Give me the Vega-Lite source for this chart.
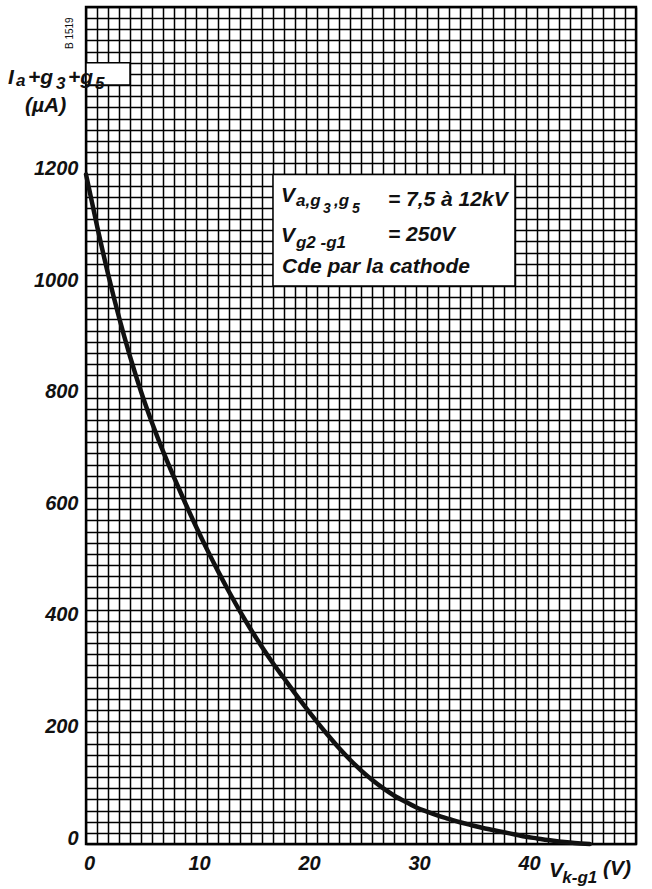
{
  "$schema": "https://vega.github.io/schema/vega-lite/v6.json",
  "autosize": "none",
  "width": 550,
  "height": 837,
  "padding": {"left": 86, "top": 7, "right": 16, "bottom": 45},
  "background": "white",
  "config": {
    "view": {"stroke": "#000", "strokeWidth": 2.4},
    "axis": {
      "labelFont": "Liberation Sans",
      "labelFontStyle": "italic",
      "labelFontWeight": "bold",
      "labelFontSize": 20,
      "labelColor": "#111",
      "domain": false,
      "ticks": false,
      "grid": true,
      "gridColor": "#000",
      "gridWidth": 1.5,
      "gridOpacity": 1,
      "labelOverlap": false,
      "labelFlush": false,
      "labelBound": false,
      "title": null
    },
    "text": {"font": "Liberation Sans", "fontStyle": "italic", "fontWeight": "bold", "color": "#111", "align": "left", "baseline": "alphabetic"}
  },
  "datasets": {
    "curve": [
      {"x": 0, "y": 1200}, {"x": 1, "y": 1108}, {"x": 2, "y": 1022}, {"x": 3, "y": 944},
      {"x": 4, "y": 874}, {"x": 5, "y": 811}, {"x": 6, "y": 755}, {"x": 7, "y": 704},
      {"x": 8, "y": 657}, {"x": 9, "y": 612}, {"x": 10, "y": 569}, {"x": 11, "y": 528},
      {"x": 12, "y": 489}, {"x": 13, "y": 452}, {"x": 14, "y": 417}, {"x": 15, "y": 384},
      {"x": 16, "y": 353}, {"x": 17, "y": 324}, {"x": 18, "y": 297}, {"x": 19, "y": 270},
      {"x": 20, "y": 244}, {"x": 21, "y": 219}, {"x": 22, "y": 195}, {"x": 23, "y": 172},
      {"x": 24, "y": 151}, {"x": 25, "y": 132}, {"x": 26, "y": 115}, {"x": 27, "y": 100},
      {"x": 28, "y": 87}, {"x": 29, "y": 76}, {"x": 30, "y": 66}, {"x": 31, "y": 58},
      {"x": 32, "y": 51}, {"x": 33, "y": 45}, {"x": 34, "y": 39}, {"x": 35, "y": 34},
      {"x": 36, "y": 29}, {"x": 37, "y": 25}, {"x": 38, "y": 21}, {"x": 39, "y": 17},
      {"x": 40, "y": 13}, {"x": 41, "y": 10}, {"x": 42, "y": 7}, {"x": 43, "y": 4.5},
      {"x": 44, "y": 2.5}, {"x": 45, "y": 1}, {"x": 45.8, "y": 0}
    ],
    "boxes": [
      {"x": 17, "x2": 39, "y": 1000, "y2": 1200},
      {"x": 0, "x2": 4, "y": 1360, "y2": 1400}
    ],
    "mainText": [
      {"x": -7.09, "y": 1362, "t": "I"},
      {"x": -5.27, "y": 1362, "t": "+g"},
      {"x": -1.64, "y": 1362, "t": "+g"},
      {"x": -5.55, "y": 1312, "t": "(µA)"},
      {"x": 17.73, "y": 1150, "t": "V"},
      {"x": 27.45, "y": 1143, "t": "= 7,5 à 12kV"},
      {"x": 17.73, "y": 1079, "t": "V"},
      {"x": 27.45, "y": 1081, "t": "= 250V"},
      {"x": 17.82, "y": 1023, "t": "Cde par la cathode"},
      {"x": 42.09, "y": -59, "t": "V"},
      {"x": 47.0, "y": -56, "t": "(V)"}
    ],
    "subText": [
      {"x": -6.36, "y": 1358, "t": "a"},
      {"x": -2.73, "y": 1353, "t": "3"},
      {"x": 0.82, "y": 1353, "t": "5"},
      {"x": 19.09, "y": 1143, "t": "a,g"},
      {"x": 22.55, "y": 1143, "t": ",g"},
      {"x": 19.09, "y": 1068, "t": "g2 -g1"},
      {"x": 43.3, "y": -70, "t": "k-g1"}
    ],
    "subSubText": [
      {"x": 21.55, "y": 1131, "t": "3"},
      {"x": 24.18, "y": 1131, "t": "5"}
    ],
    "smallText": [
      {"x": -1.45, "y": 1453, "t": "B 1519"}
    ]
  },
  "encoding": {
    "x": {
      "field": "x", "type": "quantitative",
      "scale": {"domain": [0, 50], "nice": false, "zero": false},
      "axis": {
        "values": [0,1,2,3,4,5,6,7,8,9,10,11,12,13,14,15,16,17,18,19,20,21,22,23,24,25,26,27,28,29,30,31,32,33,34,35,36,37,38,39,40,41,42,43,44,45,46,47,48,49,50],
        "labelExpr": "datum.value % 10 === 0 && datum.value < 50 ? datum.value : ''",
        "labelPadding": 9,
        "labelOffset": 3
      }
    },
    "y": {
      "field": "y", "type": "quantitative",
      "scale": {"domain": [0, 1500], "nice": false, "zero": false},
      "axis": {
        "values": [0,20,40,60,80,100,120,140,160,180,200,220,240,260,280,300,320,340,360,380,400,420,440,460,480,500,520,540,560,580,600,620,640,660,680,700,720,740,760,780,800,820,840,860,880,900,920,940,960,980,1000,1020,1040,1060,1080,1100,1120,1140,1160,1180,1200,1220,1240,1260,1280,1300,1320,1340,1360,1380,1400,1420,1440,1460,1480,1500],
        "labelExpr": "datum.value % 200 === 0 && datum.value <= 1200 ? datum.value : ''",
        "labelPadding": 8,
        "labelOffset": -6
      }
    }
  },
  "layer": [
    {
      "data": {"name": "boxes"},
      "mark": {"type": "rect", "fill": "white", "stroke": "#000", "strokeWidth": 1.5},
      "encoding": {"x2": {"field": "x2"}, "y2": {"field": "y2"}}
    },
    {
      "data": {"name": "curve"},
      "mark": {"type": "line", "interpolate": "monotone", "stroke": "#111", "strokeWidth": 4.5, "strokeCap": "round"},
      "encoding": {}
    },
    {
      "data": {"name": "mainText"},
      "mark": {"type": "text", "fontSize": 21},
      "encoding": {"text": {"field": "t"}}
    },
    {
      "data": {"name": "subText"},
      "mark": {"type": "text", "fontSize": 17},
      "encoding": {"text": {"field": "t"}}
    },
    {
      "data": {"name": "subSubText"},
      "mark": {"type": "text", "fontSize": 14},
      "encoding": {"text": {"field": "t"}}
    },
    {
      "data": {"name": "smallText"},
      "mark": {"type": "text", "fontSize": 10, "angle": 270, "align": "center", "baseline": "middle", "fontStyle": "normal", "fontWeight": "normal"},
      "encoding": {"text": {"field": "t"}}
    }
  ]
}
